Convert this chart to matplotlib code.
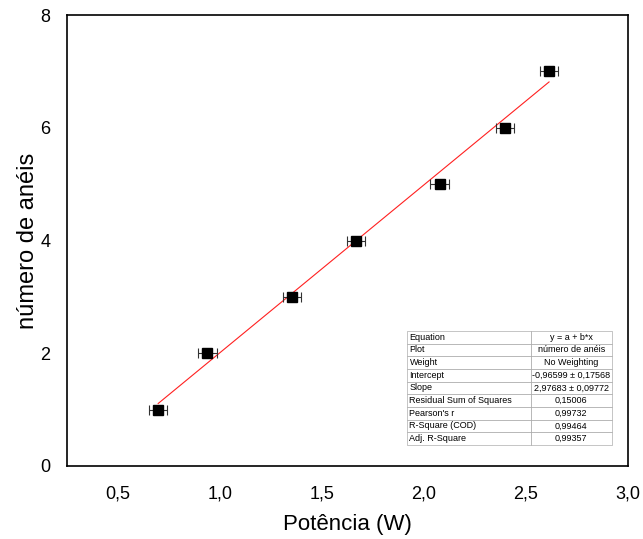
import matplotlib
matplotlib.use("Agg")
import matplotlib.pyplot as plt
import numpy as np

plt.rcParams['font.family'] = ['Liberation Sans', 'DejaVu Sans']

potencia = [0.697, 0.938, 1.352, 1.667, 2.076, 2.397, 2.613]
aneis = [1, 2, 3, 4, 5, 6, 7]
erro_x = [0.045] * 7
intercept = -0.96599
slope = 2.97683
xticks = [0.5, 1.0, 1.5, 2.0, 2.5, 3.0]
xticklabels = ["0,5", "1,0", "1,5", "2,0", "2,5", "3,0"]
yticks = [0, 2, 4, 6, 8]

table_rows = [
    ("Equation", "y = a + b*x"),
    ("Plot", "número de anéis"),
    ("Weight", "No Weighting"),
    ("Intercept", "-0,96599 ± 0,17568"),
    ("Slope", "2,97683 ± 0,09772"),
    ("Residual Sum of Squares", "0,15006"),
    ("Pearson's r", "0,99732"),
    ("R-Square (COD)", "0,99464"),
    ("Adj. R-Square", "0,99357"),
]

fig = plt.figure(figsize=(6.43, 5.39), dpi=100)
ax = fig.add_axes([67/643, 1-466/539, (628-67)/643, (466-15)/539])

xs = np.array([min(potencia), max(potencia)])
ax.plot(xs, intercept + slope*xs, color='#ff2020', lw=0.8, zorder=2)
ax.errorbar(potencia, aneis, xerr=erro_x, fmt='s', color='black', ms=7.5,
            ecolor='#333333', elinewidth=0.8, capsize=3.5, capthick=0.8, zorder=3)

ax.set_xlim(0.25, 3.0)
ax.set_ylim(0, 8)
ax.set_xticks(xticks)
ax.set_xticklabels(xticklabels)
ax.set_yticks(yticks)
ax.tick_params(length=0, labelsize=13, pad=14)
ax.tick_params(axis='y', pad=12)
for s in ax.spines.values():
    s.set_linewidth(1.2)
ax.set_xlabel("Potência (W)", fontsize=16, labelpad=8)
ax.set_ylabel("número de anéis", fontsize=17, labelpad=1)

tab = ax.table(cellText=[list(r) for r in table_rows],
               colWidths=[0.22, 0.145], cellLoc='left',
               bbox=[(407-67)/561, (466-445)/451, (612-407)/561, (445-331)/451])
tab.auto_set_font_size(False)
for (r, c), cell in tab.get_celld().items():
    cell.set_fontsize(6.5)
    cell.set_linewidth(0.4)
    cell.set_edgecolor('#999999')
    if c == 1:
        cell.get_text().set_ha('center')
        cell._loc = 'center'
    cell.PAD = 0.02

fig.savefig("out.png", dpi=100)
